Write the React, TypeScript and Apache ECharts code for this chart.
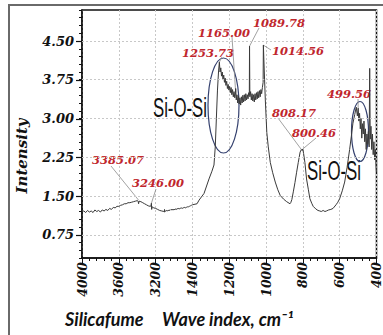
import React, { useEffect, useRef } from 'react';
import * as echarts from 'echarts';

const tickLabels = ['4000', '3600', '3200', '1400', '1200', '1000', '800', '600', '400'];
const yTickValues = [0.75, 1.5, 2.25, 3.0, 3.75, 4.5];

const waveNumbers = [
  4000, 3980, 3960, 3940, 3920, 3900, 3880, 3860, 3840, 3820, 3800, 3780, 3760, 3740, 3720, 3700,
  3680, 3660, 3640, 3620, 3600, 3580, 3560, 3540, 3520, 3500, 3480, 3460, 3440, 3420, 3400, 3390,
  3385.07, 3380, 3360, 3340, 3320, 3300, 3280, 3260, 3250, 3246, 3243, 3238, 3220, 3200,
  3100, 3000, 2900, 2800, 2773, 2765, 2755, 2700, 2650, 2600, 2550, 2500, 2450, 2400, 2350, 2300,
  2250, 2200, 2150, 2100, 2050, 2000, 1950, 1900, 1850, 1800, 1750, 1700, 1650, 1600, 1550, 1500,
  1450, 1400, 1375, 1364, 1337, 1310, 1294, 1283, 1276, 1270, 1264, 1258, 1253.73,
  1250, 1246, 1242, 1238, 1234, 1230, 1226, 1222, 1218, 1214, 1210, 1206, 1202, 1198, 1194, 1190,
  1186, 1182, 1178, 1174, 1170, 1166, 1165, 1162, 1158, 1154, 1150, 1146, 1142, 1138, 1134, 1130,
  1126, 1122, 1118, 1114, 1110, 1106, 1102, 1098, 1094, 1091, 1089.78, 1088, 1084, 1080, 1076, 1072,
  1068, 1064, 1060, 1056, 1052, 1048, 1044, 1040, 1036, 1032, 1028, 1024, 1020, 1016, 1014.56,
  1012, 1008, 1004, 996, 988, 977, 964, 950, 936, 923, 905, 888, 870, 866, 860, 852, 843, 834, 825,
  815, 808.17, 804, 800.46, 796, 789, 780, 770, 762, 752, 744, 730, 718, 708, 700, 690, 680, 672,
  660, 648, 636, 620, 610, 600, 586, 573, 560, 546, 537, 528, 518, 510, 504, 499.56,
  496, 492, 488, 484, 480, 476, 472, 468, 464, 460, 456, 452, 448, 444, 440, 437, 434, 430, 426,
  422, 418, 414, 410, 406, 402, 400,
];

const intensities = [
  1.20, 1.21, 1.18, 1.22, 1.19, 1.21, 1.18, 1.23, 1.20, 1.22, 1.19, 1.23, 1.21, 1.24, 1.22, 1.26,
  1.24, 1.28, 1.27, 1.30, 1.30, 1.32, 1.33, 1.35, 1.35, 1.37, 1.37, 1.38, 1.39, 1.40, 1.41, 1.40,
  1.35, 1.40, 1.39, 1.37, 1.35, 1.33, 1.31, 1.30, 1.31, 1.36, 1.24, 1.29, 1.27, 1.26,
  1.24, 1.22, 1.21, 1.20, 1.19, 1.24, 1.20, 1.21, 1.22, 1.21, 1.23, 1.22, 1.24, 1.23, 1.24, 1.23,
  1.25, 1.24, 1.25, 1.26, 1.25, 1.26, 1.27, 1.26, 1.27, 1.28, 1.27, 1.28, 1.29, 1.29, 1.30, 1.31,
  1.32, 1.33, 1.35, 1.42, 1.55, 1.83, 1.98, 2.10, 2.45, 3.00, 3.55, 3.92, 4.09,
  3.90, 3.98, 3.82, 3.90, 3.75, 3.84, 3.70, 3.78, 3.64, 3.72, 3.58, 3.66, 3.55, 3.62, 3.50, 3.60,
  3.46, 3.56, 3.42, 3.52, 3.40, 3.50, 3.58, 3.36, 3.46, 3.30, 3.44, 3.28, 3.40, 3.26, 3.42, 3.30,
  3.45, 3.32, 3.46, 3.34, 3.48, 3.36, 3.46, 3.38, 3.50, 3.45, 4.40, 3.42, 3.52, 3.36, 3.48, 3.34,
  3.46, 3.32, 3.48, 3.36, 3.50, 3.38, 3.52, 3.40, 3.54, 3.42, 3.56, 3.48, 3.60, 3.70, 4.42,
  4.15, 3.75, 3.36, 2.73, 2.45, 2.15, 1.95, 1.77, 1.62, 1.51, 1.44, 1.39, 1.35, 1.37, 1.43, 1.58,
  1.76, 1.96, 2.15, 2.35, 2.40, 2.38, 2.41, 2.32, 2.15, 1.83, 1.62, 1.45, 1.36, 1.30, 1.25, 1.22,
  1.21, 1.20, 1.22, 1.20, 1.21, 1.23, 1.24, 1.26, 1.33, 1.38, 1.45, 1.60, 1.77, 2.05, 2.40, 2.65,
  2.91, 3.08, 3.22, 3.05, 3.20,
  2.95, 3.10, 2.80, 3.00, 2.62, 2.90, 2.70, 2.95, 2.55, 2.80, 2.40, 2.70, 2.50, 2.75, 2.45, 3.97,
  2.60, 2.85, 2.40, 2.70, 2.30, 2.55, 2.20, 2.40, 2.05, 1.96,
];

const peakLabels = ['3385.07', '3246.00', '1253.73', '1165.00', '1089.78', '1014.56', '808.17', '800.46', '499.56'];
const peakWave = [3385.07, 3246, 1253.73, 1165, 1089.78, 1014.56, 808.17, 800.46, 499.56];
const peakIntensity = [1.42, 1.36, 4.09, 3.50, 4.40, 4.42, 2.40, 2.41, 3.20];

function toPos(wn: number): number {
  if (wn >= 3200) return (4000 - wn) / 400;
  if (wn >= 1400) return 2 + (3200 - wn) / 1800;
  return 3 + (1400 - wn) / 200;
}

// label placement (pixels): [textLeft, textTop, leaderStartX, leaderStartY]
const labelPlacement: number[][] = [
  [92, 154, 111, 166],
  [132, 177, 156, 189],
  [182, 47, 222, 57],
  [198, 27, 232, 37],
  [253, 17, 259, 28],
  [272, 45, 271, 50],
  [272, 107, 278, 118],
  [292, 127, 316, 138],
  [327, 88, 358, 99],
];

const RED = '#c0262d';
const LABEL_FONT = 'italic bold 11.5px "DejaVu Serif", serif';

export default function App() {
  const ref = useRef<HTMLDivElement>(null);

  useEffect(() => {
    if (!ref.current) return;
    const chart = echarts.init(ref.current, undefined, { renderer: 'svg' });
    const seriesData = waveNumbers.map((w, i) => [toPos(w), intensities[i]]);

    chart.setOption({
      animation: false,
      backgroundColor: '#ffffff',
      grid: {
        left: 82,
        right: 4,
        top: 10,
        bottom: 77,
        show: true,
        borderColor: '#111',
        borderWidth: 1.5,
        backgroundColor: 'transparent',
      },
      xAxis: {
        type: 'value',
        min: 0,
        max: 8,
        interval: 1,
        axisLine: { show: true, onZero: false, lineStyle: { color: '#111', width: 1.5 } },
        axisTick: { show: true, length: 5, lineStyle: { color: '#111', width: 1 } },
        minorTick: { show: true, splitNumber: 5, length: 3, lineStyle: { color: '#111', width: 1 } },
        splitLine: { show: true, lineStyle: { color: '#c8c8c8', type: [2, 2], width: 1 } },
        axisLabel: {
          rotate: 90,
          margin: 4,
          color: '#111',
          fontFamily: 'DejaVu Serif',
          fontWeight: 'bold',
          fontStyle: 'italic',
          fontSize: 12.5,
          formatter: (v: number) => tickLabels[Math.round(v)] ?? '',
        },
      },
      yAxis: {
        type: 'value',
        min: 0.3,
        max: 5.1,
        interval: 0.15,
        axisLine: { show: true, lineStyle: { color: '#111', width: 1.5 } },
        axisTick: { show: true, length: 3, lineStyle: { color: '#111', width: 1 } },
        splitLine: { show: false },
        axisLabel: {
          margin: 8,
          color: '#111',
          fontFamily: 'DejaVu Serif',
          fontWeight: 'bold',
          fontStyle: 'italic',
          fontSize: 13,
          showMinLabel: true,
          showMaxLabel: true,
          formatter: (v: number) => {
            const r = v / 0.75;
            return Math.abs(r - Math.round(r)) < 1e-6 && v > 0.5 && v < 5 ? v.toFixed(2) : '';
          },
        },
      },
      series: [
        {
          type: 'line',
          data: seriesData,
          showSymbol: false,
          symbol: 'none',
          lineStyle: { color: '#3a3a3a', width: 1 },
          markLine: {
            silent: true,
            symbol: ['none', 'none'],
            label: { show: false },
            lineStyle: { color: '#c8c8c8', type: [2, 2], width: 1 },
            data: yTickValues.map((v) => ({ yAxis: v })),
          },
        },
      ],
    });

    const graphics: any[] = [
      {
        type: 'rect',
        shape: { x: 9, y: 5, width: 420, height: 400 },
        style: { fill: 'none', stroke: '#6a6a6a', lineWidth: 2 },
        silent: true,
        z: 0,
      },
      {
        type: 'text',
        x: 22,
        y: 156,
        rotation: Math.PI / 2,
        style: {
          text: 'Intensity',
          font: 'italic bold 15px "DejaVu Serif", serif',
          fill: '#111',
          textAlign: 'center',
          textVerticalAlign: 'middle',
        },
      },
      {
        type: 'text',
        x: 65,
        y: 319,
        style: {
          text: 'Silicafume',
          font: 'italic bold 18px Lato, sans-serif',
          fill: '#111',
          textAlign: 'left',
          textVerticalAlign: 'middle',
        },
      },
      {
        type: 'text',
        x: 162,
        y: 319,
        style: {
          text: 'Wave index, cm⁻¹',
          font: 'italic bold 18px Lato, sans-serif',
          fill: '#111',
          textAlign: 'left',
          textVerticalAlign: 'middle',
        },
      },
      {
        type: 'text',
        x: 180,
        y: 107,
        scaleX: 0.6,
        style: {
          text: 'Si-O-Si',
          font: '28px "Liberation Sans", sans-serif',
          fill: '#111',
          textAlign: 'center',
          textVerticalAlign: 'middle',
        },
      },
      {
        type: 'text',
        x: 334,
        y: 170,
        scaleX: 0.6,
        style: {
          text: 'Si-O-Si',
          font: '28px "Liberation Sans", sans-serif',
          fill: '#111',
          textAlign: 'center',
          textVerticalAlign: 'middle',
        },
      },
      {
        type: 'ellipse',
        shape: { cx: 223.5, cy: 105.5, rx: 15.5, ry: 47.5 },
        style: { fill: 'none', stroke: '#34406e', lineWidth: 1.2 },
      },
      {
        type: 'ellipse',
        shape: { cx: 360, cy: 131.5, rx: 8.5, ry: 30 },
        style: { fill: 'none', stroke: '#34406e', lineWidth: 1.2 },
      },
    ];

    // longer major ticks on the y axis, placed through the axis scale
    yTickValues.forEach((v) => {
      const p = chart.convertToPixel({ gridIndex: 0 }, [0, v]) as number[];
      graphics.push({
        type: 'line',
        shape: { x1: p[0] - 6, y1: Math.round(p[1]) + 0.5, x2: p[0], y2: Math.round(p[1]) + 0.5 },
        style: { stroke: '#111', lineWidth: 1.2 },
      });
    });

    peakLabels.forEach((lab, i) => {
      const [tx, ty, lx, ly] = labelPlacement[i];
      const pt = chart.convertToPixel({ gridIndex: 0 }, [toPos(peakWave[i]), peakIntensity[i]]) as number[];
      graphics.push({
        type: 'line',
        shape: { x1: lx, y1: ly, x2: pt[0], y2: pt[1] },
        style: { stroke: '#8a8a8a', lineWidth: 0.8 },
      });
      graphics.push({
        type: 'text',
        x: tx,
        y: ty,
        style: {
          text: lab,
          font: LABEL_FONT,
          fill: RED,
          textAlign: 'left',
          textVerticalAlign: 'top',
        },
      });
    });

    chart.setOption({ graphic: graphics });

    return () => {
      chart.dispose();
    };
  }, []);

  return (
    <div
      ref={ref}
      style={{ position: 'fixed', left: 0, top: 0, width: 383, height: 335, background: '#fff' }}
    />
  );
}
